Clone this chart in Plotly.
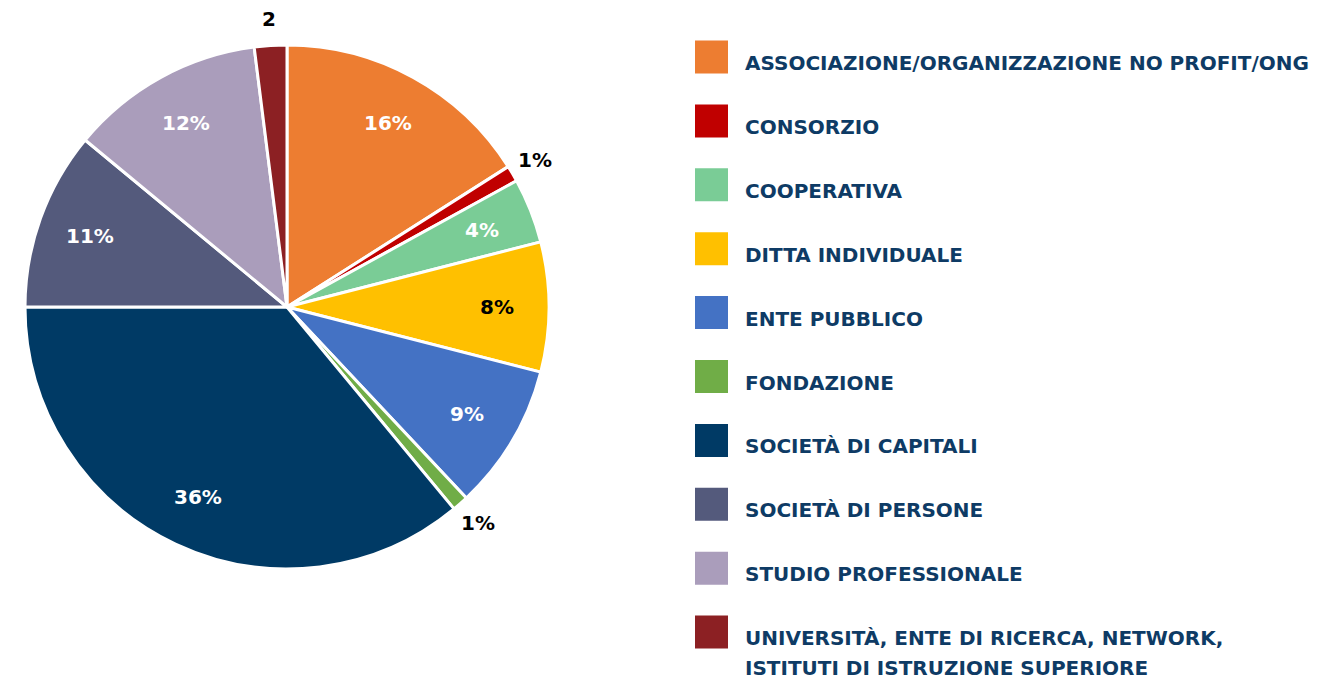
import math
import plotly.graph_objects as go

# Categories, shares (%) and slice colours
categories = [
    "ASSOCIAZIONE/ORGANIZZAZIONE NO PROFIT/ONG",
    "CONSORZIO",
    "COOPERATIVA",
    "DITTA INDIVIDUALE",
    "ENTE PUBBLICO",
    "FONDAZIONE",
    "SOCIETÀ DI CAPITALI",
    "SOCIETÀ DI PERSONE",
    "STUDIO PROFESSIONALE",
    "UNIVERSITÀ, ENTE DI RICERCA, NETWORK,\nISTITUTI DI ISTRUZIONE SUPERIORE",
]
shares = [16, 1, 4, 8, 9, 1, 36, 11, 12, 2]
slice_labels = ["16%", "1%", "4%", "8%", "9%", "1%", "36%", "11%", "12%", "2"]
colors = ["#ED7D31", "#C00000", "#7ACC96", "#FFC000", "#4472C4",
          "#70AD47", "#003A65", "#545A7C", "#AA9DBB", "#8C2023"]
label_colors = ["white", "black", "white", "black", "white",
                "black", "white", "white", "white", "black"]
label_inside = [True, False, True, True, True, False, True, True, True, False]

W, H = 1338, 680
FONT = "DejaVu Sans"
TEXT_NAVY = "#0E3B65"

# Pie geometry in pixels
cx, cy, R = 287, 307, 262


def px(x):
    return x / W


def py(y):
    return 1 - y / H


fig = go.Figure()
fig.add_trace(go.Pie(
    labels=[c.replace("\n", " ") for c in categories],
    values=shares,
    sort=False,
    direction="clockwise",
    rotation=0,
    marker=dict(colors=colors, line=dict(color="white", width=3)),
    textinfo="none",
    hoverinfo="label+percent",
    showlegend=False,
    domain=dict(x=[px(cx - R), px(cx + R)], y=[py(cy + R), py(cy - R)]),
))

annotations = []
shapes = []

# Slice labels placed at each slice's mid-angle
total = sum(shares)
cum = 0
for val, lab, col, inside in zip(shares, slice_labels, label_colors, label_inside):
    mid = (cum + val / 2) / total * 2 * math.pi
    cum += val
    r = 0.80 * R if inside else 1.10 * R
    x = cx + r * math.sin(mid)
    y = cy - r * math.cos(mid)
    annotations.append(dict(
        x=px(x), y=py(y), xref="paper", yref="paper",
        text=f"<b>{lab}</b>", showarrow=False,
        font=dict(family=FONT, size=20, color=col),
        xanchor="center", yanchor="middle",
    ))

# Custom legend: large colour squares with bold navy labels
leg_x0, leg_sq = 695, 33
text_x = 743
first_center, step = 63, 63.9
for i, (cat, col) in enumerate(zip(categories, colors)):
    yc = first_center + i * step
    shapes.append(dict(
        type="rect", xref="paper", yref="paper",
        x0=px(leg_x0), x1=px(leg_x0 + leg_sq),
        y0=py(yc - 6 - leg_sq / 2), y1=py(yc - 6 + leg_sq / 2),
        fillcolor=col, line=dict(width=0),
    ))
    for j, line in enumerate(cat.split("\n")):
        annotations.append(dict(
            x=px(text_x), y=py(yc + j * 30), xref="paper", yref="paper",
            text=f"<b>{line}</b>", showarrow=False,
            font=dict(family=FONT, size=20, color=TEXT_NAVY),
            xanchor="left", yanchor="middle",
        ))

fig.update_layout(
    width=W, height=H,
    margin=dict(l=0, r=0, t=0, b=0),
    paper_bgcolor="white", plot_bgcolor="white",
    annotations=annotations, shapes=shapes,
)

fig.write_html("out.html")
